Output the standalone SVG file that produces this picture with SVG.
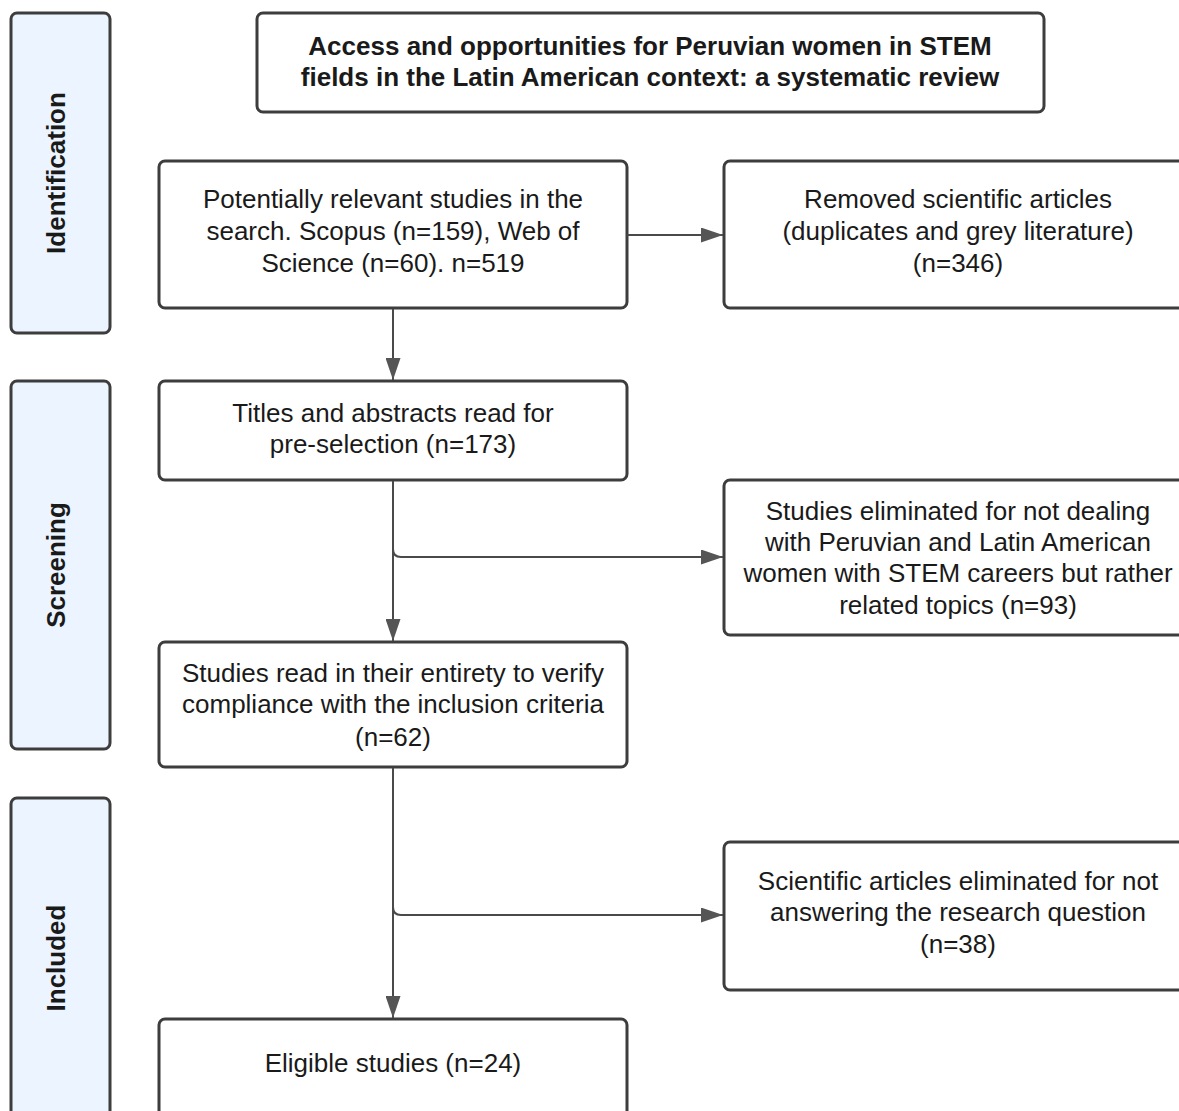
<svg xmlns="http://www.w3.org/2000/svg" width="1179" height="1111" viewBox="0 0 1179 1111">
<style>
.side{fill:#ebf4ff;stroke:#3d3d3d;stroke-width:3}
.box{fill:#fff;stroke:#3d3d3d;stroke-width:3}
.t{font-family:"Liberation Sans",Arial,sans-serif;font-size:26px;fill:#1a1a1a;text-anchor:middle}
.b{font-weight:bold}
.c{fill:none;stroke:#4a4a4a;stroke-width:2}
</style>
<defs>
<marker id="ah" markerWidth="22" markerHeight="15" refX="22" refY="7.5" orient="auto" markerUnits="userSpaceOnUse">
<path d="M0,0 L22,7.5 L0,15 Z" fill="#555"/>
</marker>
</defs>
<rect width="1179" height="1111" fill="#fff"/>
<g id="side-identification">
<rect class="side" x="11" y="13" width="99" height="320" rx="6"/>
<text class="t b" transform="translate(65,173) rotate(-90)">Identification</text>
</g>
<g id="side-screening">
<rect class="side" x="11" y="381" width="99" height="368" rx="6"/>
<text class="t b" transform="translate(65,565) rotate(-90)">Screening</text>
</g>
<g id="side-included">
<rect class="side" x="11" y="798" width="99" height="330" rx="6"/>
<text class="t b" transform="translate(65,958) rotate(-90)">Included</text>
</g>
<g id="title">
<rect class="box" x="257" y="13" width="787" height="99" rx="6"/>
<text class="t b" x="650" y="55">Access and opportunities for Peruvian women in STEM</text>
<text class="t b" x="650" y="86">fields in the Latin American context: a systematic review</text>
</g>
<g id="n-relevant">
<rect class="box" x="159" y="161" width="468" height="147" rx="6"/>
<text class="t" x="393" y="208">Potentially relevant studies in the</text>
<text class="t" x="393" y="240">search. Scopus (n=159), Web of</text>
<text class="t" x="393" y="272">Science (n=60). n=519</text>
</g>
<g id="n-removed">
<rect class="box" x="724" y="161" width="468" height="147" rx="6"/>
<text class="t" x="958" y="208">Removed scientific articles</text>
<text class="t" x="958" y="240">(duplicates and grey literature)</text>
<text class="t" x="958" y="272">(n=346)</text>
</g>
<g id="n-titles">
<rect class="box" x="159" y="381" width="468" height="99" rx="6"/>
<text class="t" x="393" y="422">Titles and abstracts read for</text>
<text class="t" x="393" y="453">pre-selection (n=173)</text>
</g>
<g id="n-elim1">
<rect class="box" x="724" y="480" width="468" height="155" rx="6"/>
<text class="t" x="958" y="520">Studies eliminated for not dealing</text>
<text class="t" x="958" y="551">with Peruvian and Latin American</text>
<text class="t" x="958" y="582">women with STEM careers but rather</text>
<text class="t" x="958" y="614">related topics (n=93)</text>
</g>
<g id="n-read">
<rect class="box" x="159" y="642" width="468" height="125" rx="6"/>
<text class="t" x="393" y="682">Studies read in their entirety to verify</text>
<text class="t" x="393" y="713">compliance with the inclusion criteria</text>
<text class="t" x="393" y="746">(n=62)</text>
</g>
<g id="n-elim2">
<rect class="box" x="724" y="842" width="468" height="148" rx="6"/>
<text class="t" x="958" y="890">Scientific articles eliminated for not</text>
<text class="t" x="958" y="921">answering the research question</text>
<text class="t" x="958" y="953">(n=38)</text>
</g>
<g id="n-eligible">
<rect class="box" x="159" y="1019" width="468" height="120" rx="6"/>
<text class="t" x="393" y="1072">Eligible studies (n=24)</text>
</g>
<g id="connectors">
<line class="c" x1="627" y1="235" x2="723" y2="235" marker-end="url(#ah)"/>
<line class="c" x1="393" y1="309" x2="393" y2="380" marker-end="url(#ah)"/>
<line class="c" x1="393" y1="481" x2="393" y2="641" marker-end="url(#ah)"/>
<path class="c" d="M393,549 Q393,557 401,557 L723,557" marker-end="url(#ah)"/>
<line class="c" x1="393" y1="768" x2="393" y2="1018" marker-end="url(#ah)"/>
<path class="c" d="M393,907 Q393,915 401,915 L723,915" marker-end="url(#ah)"/>
</g>
</svg>
